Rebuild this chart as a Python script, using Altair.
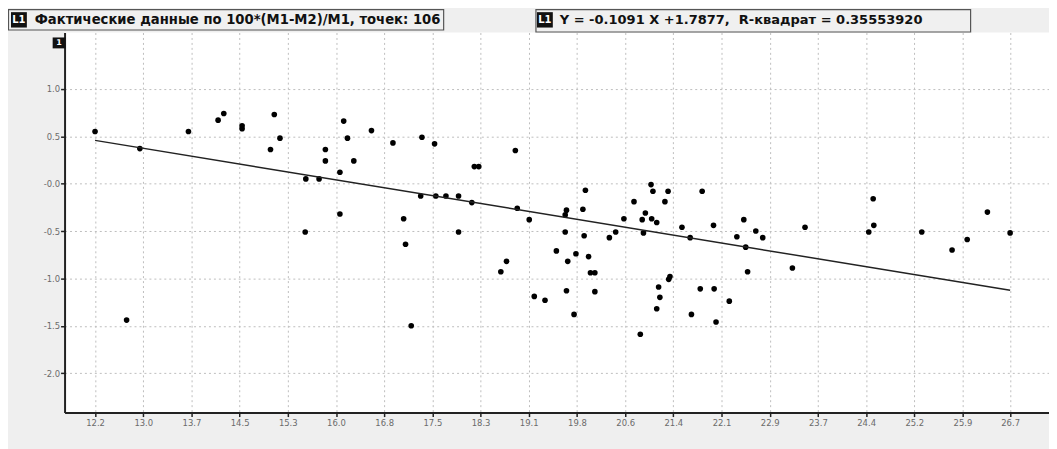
import altair as alt
import pandas as pd

# ---- data ----
x_vals = [12.20, 12.91, 12.70, 13.68, 14.15, 14.24, 14.53, 14.53, 15.04, 14.98,
          15.13, 15.54, 15.75, 15.53, 15.85, 15.85, 16.08, 16.14, 16.20, 16.30,
          16.08, 16.58, 16.92, 17.38, 17.58, 18.86, 18.21, 18.28, 17.09, 17.12,
          17.21, 17.36, 17.60, 17.76, 17.96, 17.96, 18.17, 18.89, 19.08, 18.63,
          18.72, 19.16, 19.33, 19.51, 19.67, 19.65, 19.65, 19.69, 19.67, 19.82,
          19.79, 19.97, 19.93, 19.95, 20.02, 20.05, 20.12, 20.12, 20.35, 20.45,
          20.58, 20.74, 20.87, 20.92, 20.89, 21.01, 21.04, 21.02, 21.10, 21.28,
          21.23, 20.84, 21.31, 21.29, 21.13, 21.15, 21.10, 21.82, 21.50, 21.63,
          22.00, 21.79, 22.01, 21.65, 22.04, 22.25, 22.37, 22.48, 22.51, 22.67,
          22.78, 22.54, 23.25, 23.45, 24.53, 24.54, 24.46, 25.30, 25.78, 26.02,
          26.34, 26.70]
y_vals = [0.55, 0.37, -1.44, 0.55, 0.67, 0.74, 0.61, 0.58, 0.73, 0.36,
          0.48, 0.05, 0.05, -0.51, 0.36, 0.24, 0.12, 0.66, 0.48, 0.24,
          -0.32, 0.56, 0.43, 0.49, 0.42, 0.35, 0.18, 0.18, -0.37, -0.64,
          -1.50, -0.13, -0.13, -0.13, -0.13, -0.51, -0.20, -0.26, -0.38, -0.93,
          -0.82, -1.19, -1.23, -0.71, -0.28, -0.33, -0.51, -0.82, -1.13, -0.74,
          -1.38, -0.07, -0.27, -0.55, -0.77, -0.94, -0.94, -1.14, -0.57, -0.51,
          -0.37, -0.19, -0.38, -0.31, -0.52, -0.01, -0.08, -0.37, -0.41, -0.08,
          -0.19, -1.59, -0.98, -1.01, -1.09, -1.20, -1.32, -0.08, -0.46, -0.57,
          -0.44, -1.11, -1.11, -1.38, -1.46, -1.24, -0.56, -0.38, -0.67, -0.50,
          -0.57, -0.93, -0.89, -0.46, -0.16, -0.44, -0.51, -0.51, -0.70, -0.59,
          -0.30, -0.52]

slope = -0.1091
intercept = 1.7877
line_x = [12.2, 26.7]

x_ticks = [12.2, 12.964, 13.727, 14.491, 15.254, 16.018, 16.782, 17.545, 18.309,
           19.072, 19.836, 20.600, 21.363, 22.127, 22.890, 23.654, 24.418, 25.181,
           25.945, 26.7]
y_ticks = [-2.0, -1.5, -1.0, -0.5, 0.0, 0.5, 1.0]

legend1 = "Фактические данные по 100*(M1-M2)/M1, точек: 106"
legend2 = "Y = -0.1091 X +1.7877,\u00a0 R-квадрат = 0.35553920"

x_domain = [11.717, 27.316]
y_domain = [-2.416, 1.595]

pts = pd.DataFrame({"x": x_vals, "y": y_vals})
ln = pd.DataFrame({"x": line_x, "y": [slope * v + intercept for v in line_x]})

FONT = "DejaVu Sans"

xs = alt.Scale(domain=x_domain, nice=False, zero=False)
ys = alt.Scale(domain=y_domain, nice=False, zero=False)

x_axis = alt.Axis(values=x_ticks, format=".1f", title=None, grid=True,
                  gridColor="#bdbdbd", gridDash=[2, 3], gridWidth=1,
                  domainColor="#222222", domainWidth=2, tickColor="#222222",
                  tickWidth=1.5, tickSize=4, labelPadding=2, labelFont=FONT,
                  labelFontSize=8.5, labelColor="#6a6a6a", labelFlush=False)
y_axis = alt.Axis(values=y_ticks, title=None, grid=True,
                  labelExpr="datum.value <= 0 ? '-' + format(abs(datum.value), '.1f') : format(datum.value, '.1f')",
                  gridColor="#bdbdbd", gridDash=[2, 3], gridWidth=1,
                  domainColor="#222222", domainWidth=2, tickColor="#222222",
                  tickWidth=1.5, tickSize=4, labelPadding=1, labelFont=FONT,
                  labelFontSize=8.5, labelColor="#6a6a6a", labelFlush=False)

points = alt.Chart(pts).mark_circle(size=32, color="#000000", opacity=1).encode(
    x=alt.X("x:Q", scale=xs, axis=x_axis),
    y=alt.Y("y:Q", scale=ys, axis=y_axis),
)

reg = alt.Chart(ln).mark_line(color="#222222", strokeWidth=1.5).encode(
    x=alt.X("x:Q", scale=xs),
    y=alt.Y("y:Q", scale=ys),
)

one = alt.Data(values=[{"t1": legend1, "t2": legend2}])

box1 = alt.Chart(one).mark_rect(fill="#f0f0f0", stroke="#555555", strokeWidth=1.2).encode(
    x=alt.value(-56.5), x2=alt.value(382), y=alt.value(-23), y2=alt.value(-2.5))
box2 = alt.Chart(one).mark_rect(fill="#f0f0f0", stroke="#555555", strokeWidth=1.2).encode(
    x=alt.value(475), x2=alt.value(913), y=alt.value(-23), y2=alt.value(-0.5))
icon1 = alt.Chart(one).mark_rect(fill="#111111").encode(
    x=alt.value(-54), x2=alt.value(-38), y=alt.value(-20.5), y2=alt.value(-5))
icon2 = alt.Chart(one).mark_rect(fill="#111111").encode(
    x=alt.value(476), x2=alt.value(492), y=alt.value(-20.5), y2=alt.value(-5))
icon1t = alt.Chart(one).mark_text(text="L1", color="white", font=FONT, fontSize=10,
                                  fontWeight="bold", align="center", baseline="middle").encode(
    x=alt.value(-46), y=alt.value(-12.5))
icon2t = alt.Chart(one).mark_text(text="L1", color="white", font=FONT, fontSize=10,
                                  fontWeight="bold", align="center", baseline="middle").encode(
    x=alt.value(484), y=alt.value(-12.5))
txt1 = alt.Chart(one).mark_text(font=FONT, fontSize=13.3, fontWeight="bold", color="#111111",
                                align="left", baseline="middle").encode(
    x=alt.value(-30), y=alt.value(-12.5), text="t1:N")
txt2 = alt.Chart(one).mark_text(font=FONT, fontSize=13.1, fontWeight="bold", color="#111111",
                                align="left", baseline="middle").encode(
    x=alt.value(499), y=alt.value(-12.5), text="t2:N")
ymark = alt.Chart(one).mark_rect(fill="#111111").encode(
    x=alt.value(-12), x2=alt.value(1), y=alt.value(5), y2=alt.value(16))
ymarkt = alt.Chart(one).mark_text(text="1", color="white", font=FONT, fontSize=8,
                                  fontWeight="bold", align="center", baseline="middle").encode(
    x=alt.value(-5.5), y=alt.value(10.5))

chart = alt.layer(points, reg, box1, box2, icon1, icon2, icon1t, icon2t, txt1, txt2,
                  ymark, ymarkt).properties(
    width=992, height=383,
    autosize=alt.AutoSizeParams(type="none"),
    padding={"left": 57, "top": 23, "right": 0, "bottom": 35},
    background="#efefef",
).configure_view(fill="white", stroke=None)

chart.save("out.html", embed_options={"renderer": "svg", "actions": False})
